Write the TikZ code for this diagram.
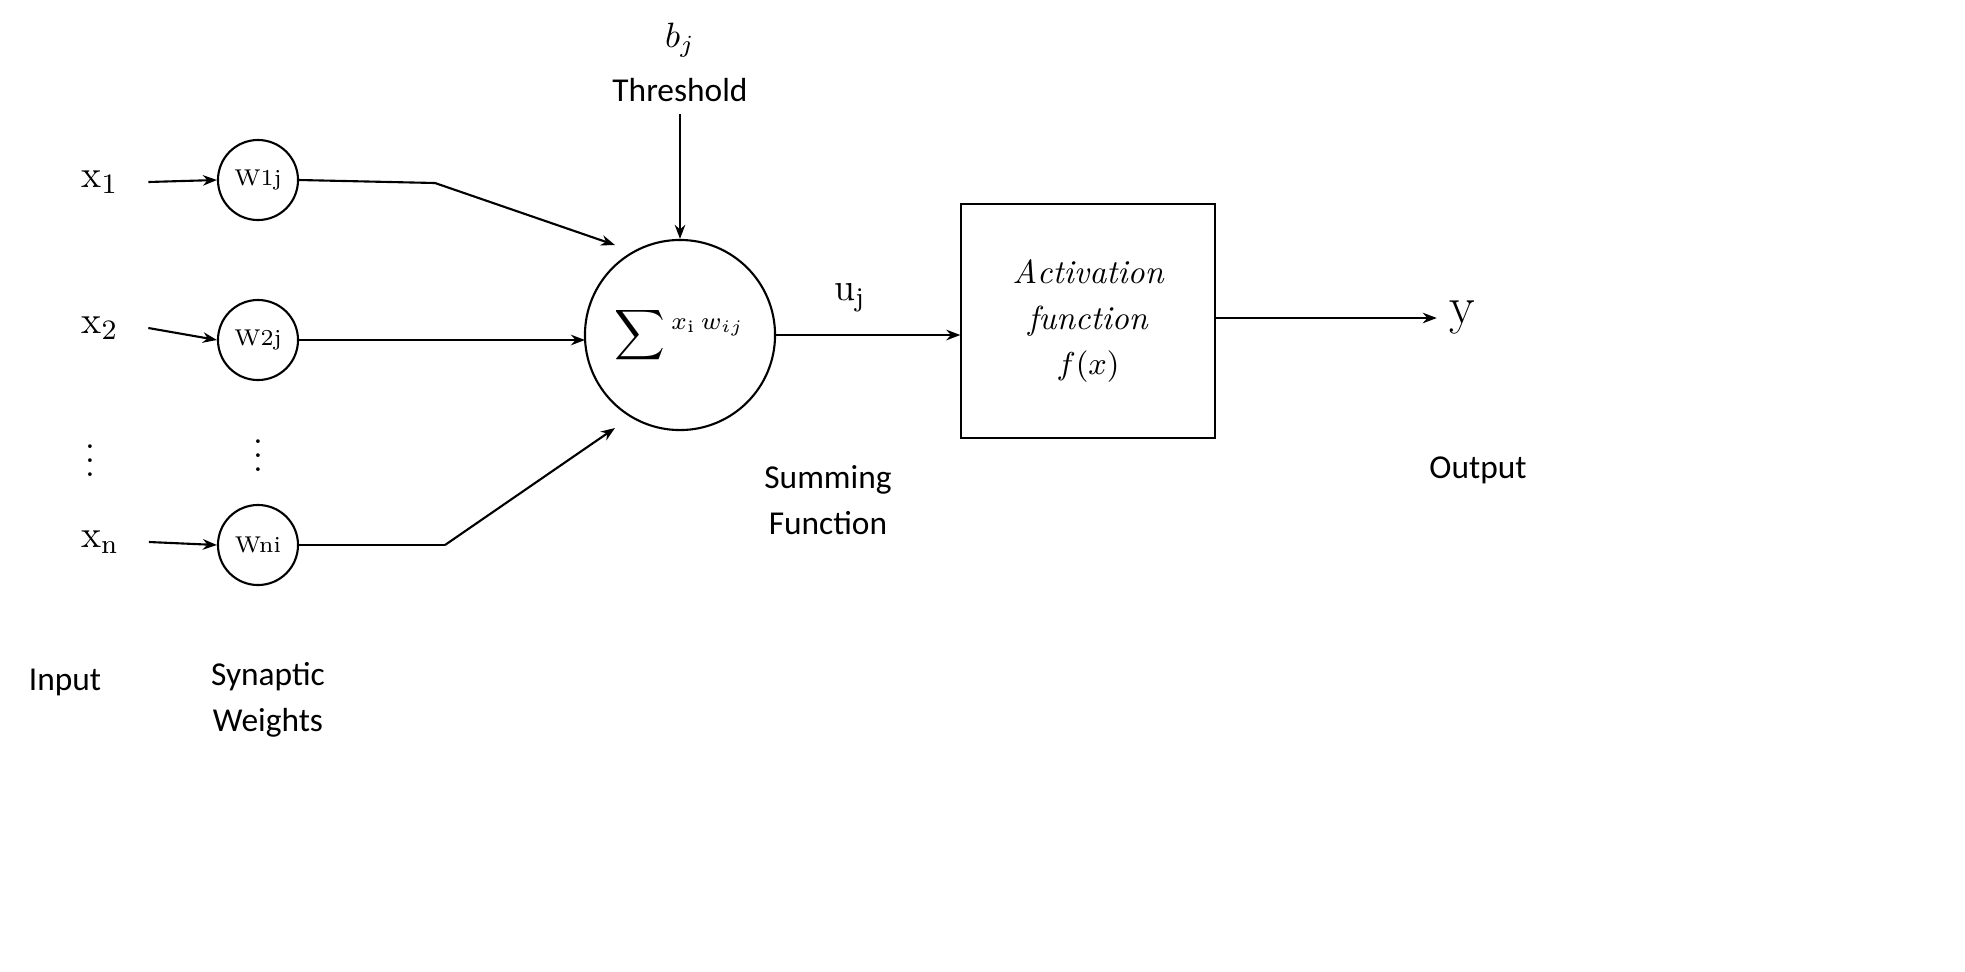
\documentclass[tikz,border=0pt]{standalone}
\usepackage{fontspec}
\newfontfamily\carfont{Carlito}
\usetikzlibrary{arrows.meta}
\begin{document}
\begin{tikzpicture}[x=0.01cm,y=-0.01cm,
  wt/.style={circle,draw,line width=0.6pt,inner sep=0pt,minimum size=0.8cm,font=\fontsize{6.5}{7}\selectfont},
  lab/.style={font=\carfont\fontsize{9.5}{13}\selectfont,align=center},
  var/.style={font=\fontsize{11}{12}\selectfont},
  arr/.style={line width=0.6pt,-{Stealth[length=4pt,width=3pt]}},
  ln/.style={line width=0.6pt}]
\useasboundingbox (0,0) rectangle (1965,972);
\node[var] (x1) at (100,182) {x$_1$};
\node[var] (x2) at (100,328) {x$_2$};
\node[var] (xn) at (100,542) {x$_{\mathrm{n}}$};
\node[font=\fontsize{10}{11}\selectfont] (dx) at (90,450) {$\vdots$};
\node[wt] (w1) at (258,180) {W1j};
\node[wt] (w2) at (258,340) {W2j};
\node[wt] (wn) at (258,545) {Wni};
\node[font=\fontsize{10}{11}\selectfont] (dw) at (258,445) {$\vdots$};
\draw[arr] ([xshift=5pt]x1.east) -- (w1.west);
\draw[arr] ([xshift=5pt]x2.east) -- (w2.west);
\draw[arr] ([xshift=5pt]xn.east) -- (wn.west);
\node[circle,draw,line width=0.6pt,minimum size=1.9cm,inner sep=0pt,font=\fontsize{10}{11}\selectfont] (s) at (680,335) {$\displaystyle\sum {}^{x_{\mathrm{i}}\,w_{ij}}$};
\coordinate (k1) at (435,183);
\coordinate (kn) at (445,545);
\draw[ln] (w1.east) -- (k1);
\draw[arr] (k1) -- (615,245);
\draw[arr] (w2.east) -- (585,340);
\draw[ln] (wn.east) -- (kn);
\draw[arr] (kn) -- (615,428);
\node[font=\fontsize{10}{11}\selectfont] (b) at (680,40) {$b_j$};
\node[lab] (th) at (680,90) {Threshold};
\draw[arr] (th.south) -- (s.north);
\node[var] (u) at (850,298) {u$_{\mathrm{j}}$};
\node[draw,line width=0.6pt,minimum width=2.53cm,minimum height=2.33cm,font=\fontsize{9.5}{13}\selectfont,align=center] (f) at (1088,321) {$\mathit{Activation}$\\$\mathit{function}$\\$f(x)$};
\draw[arr] (s.east) -- (s.east -| f.west);
\node[font=\fontsize{15}{16}\selectfont] (y) at (1462,318) {y};
\draw[arr] (f.east |- y.west) -- (y.west);
\node[lab] at (1478,470) {Output};
\node[lab] at (828,500) {Summing\\Function};
\node[lab] at (65,682) {Input};
\node[lab] at (268,700) {Synaptic\\Weights};
\end{tikzpicture}
\end{document}
